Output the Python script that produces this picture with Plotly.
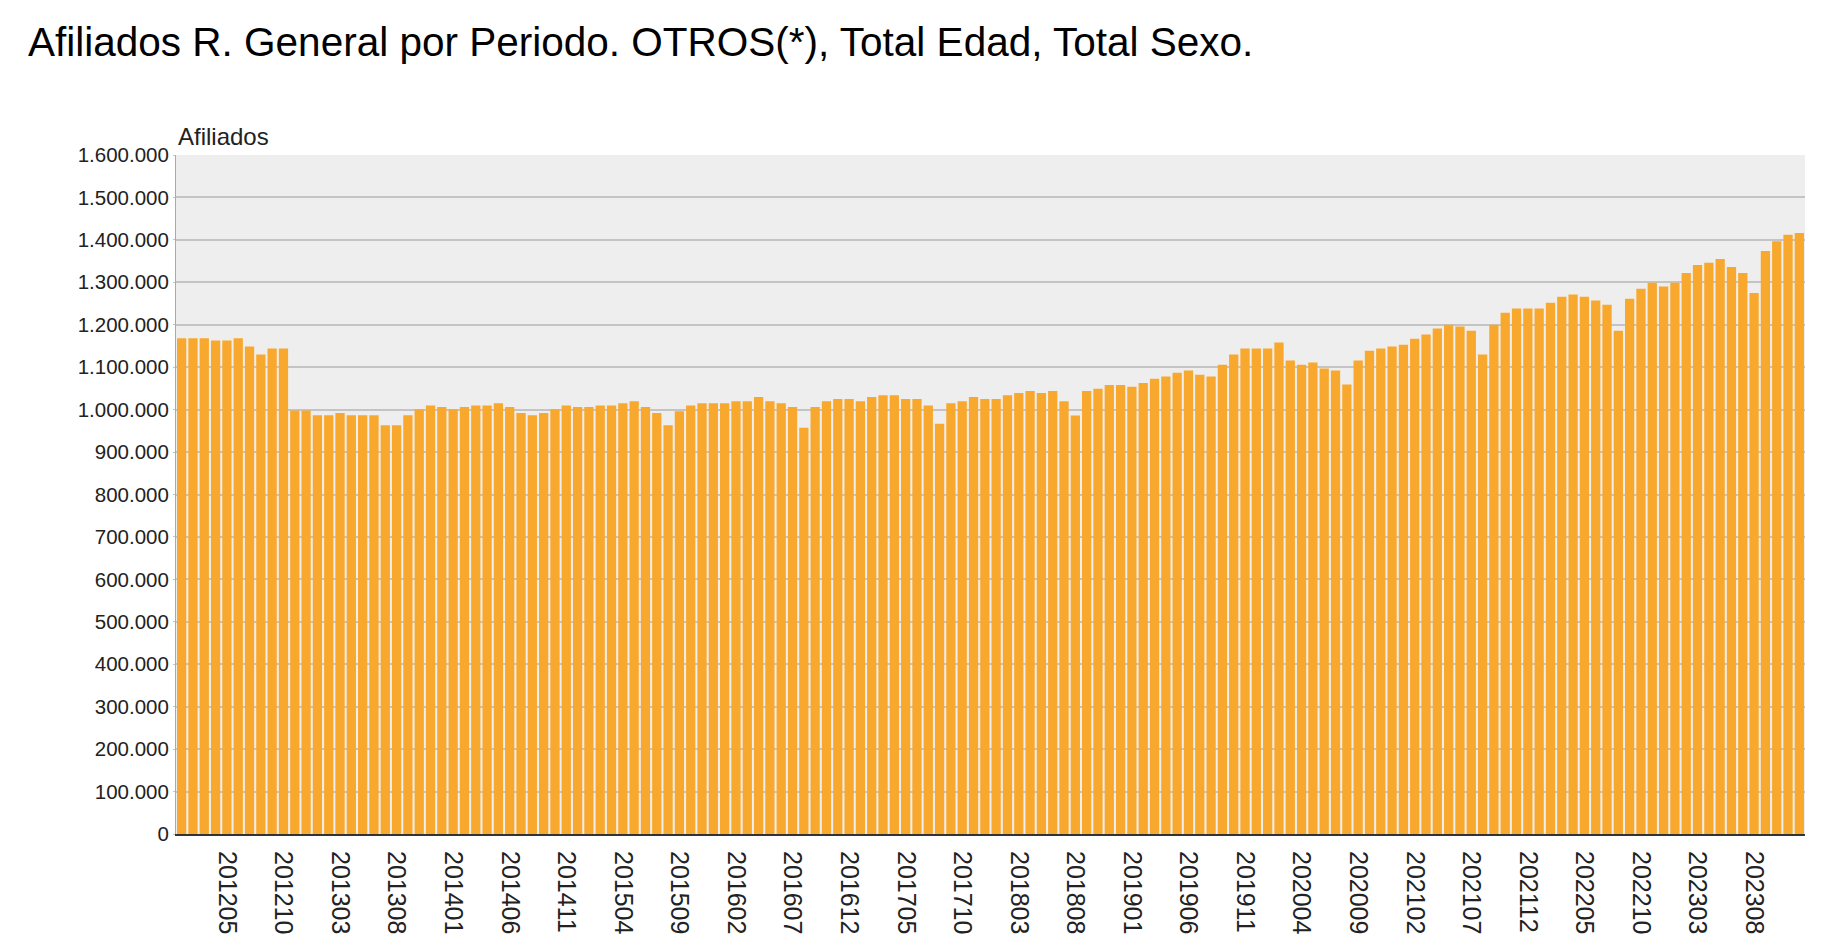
import plotly.graph_objects as go

years = list(range(2012, 2024))
periods = [f"{y}{m:02d}" for y in years for m in range(1, 13)]

afiliados_miles = [
    1168, 1168, 1168, 1163, 1163, 1168, 1149, 1130, 1144, 1144, 998, 998,
    987, 987, 992, 987, 987, 987, 963, 963, 987, 1001, 1010, 1006,
    1001, 1006, 1010, 1010, 1015, 1006, 992, 987, 992, 1001, 1010, 1006,
    1006, 1010, 1010, 1015, 1020, 1006, 992, 963, 996, 1010, 1015, 1015,
    1015, 1020, 1020, 1030, 1020, 1015, 1006, 957, 1006, 1020, 1025, 1025,
    1020, 1030, 1034, 1034, 1025, 1025, 1010, 967, 1015, 1020, 1030, 1025,
    1025, 1034, 1039, 1044, 1039, 1044, 1020, 986, 1044, 1049, 1058, 1058,
    1054, 1063, 1073, 1078, 1087, 1092, 1082, 1078, 1106, 1130, 1144, 1144,
    1144, 1158, 1116, 1106, 1111, 1097, 1092, 1059, 1116, 1139, 1144, 1149,
    1153, 1167, 1177, 1191, 1200, 1196, 1186, 1130, 1200, 1228, 1238, 1238,
    1238, 1252, 1266, 1271, 1266, 1257, 1247, 1186, 1261, 1285, 1299, 1290,
    1299, 1322, 1341, 1346, 1355, 1336, 1322, 1275, 1374, 1397, 1412, 1416,
]
afiliados = [v * 1000 for v in afiliados_miles]

x_ticks = periods[4::5]
y_ticks = list(range(0, 1600001, 100000))
y_labels = [f"{v:,}".replace(",", ".") for v in y_ticks]

fig = go.Figure(go.Bar(
    x=periods, y=afiliados,
    marker=dict(color="#F9A82E", line=dict(width=0)),
))

fig.update_layout(
    width=1836, height=948,
    margin=dict(l=168, r=39, t=147, b=122),
    paper_bgcolor="white",
    plot_bgcolor="#EEEEEE",
    bargap=0.18,
    showlegend=False,
    font=dict(family="Liberation Sans, Arial, sans-serif", color="#222222", size=20),
    title=dict(
        text="Afiliados R. General por Periodo. OTROS(*), Total Edad, Total Sexo.",
        x=20 / 1836, xref="container", xanchor="left",
        y=1 - 34 / 948, yref="container", yanchor="middle",
        font=dict(size=40.5, color="#000000", family="Liberation Sans, Arial, sans-serif"),
    ),
    annotations=[dict(
        text="Afiliados", xref="paper", yref="paper", x=0, y=1,
        xanchor="left", yanchor="bottom", showarrow=False, yshift=3,
        font=dict(size=24, color="#222222"),
    )],
)

fig.update_xaxes(
    type="category",
    tickmode="array", tickvals=x_ticks, ticktext=x_ticks,
    tickangle=90,
    showgrid=False,
    showline=True, linecolor="#333333", linewidth=2,
    ticks="", ticklabelstandoff=10,
    tickfont=dict(size=25, color="#222222"),
)
fig.update_yaxes(
    range=[0, 1600000],
    tickmode="array", tickvals=y_ticks, ticktext=y_labels,
    showgrid=True, gridcolor="#C4C4C4", gridwidth=2,
    showline=True, linecolor="#AAAAAA", linewidth=1,
    ticks="outside", ticklen=2, tickcolor="#C4C4C4",
    zeroline=False,
    tickfont=dict(size=20.5, color="#222222"),
)

fig.write_html("out.html")
